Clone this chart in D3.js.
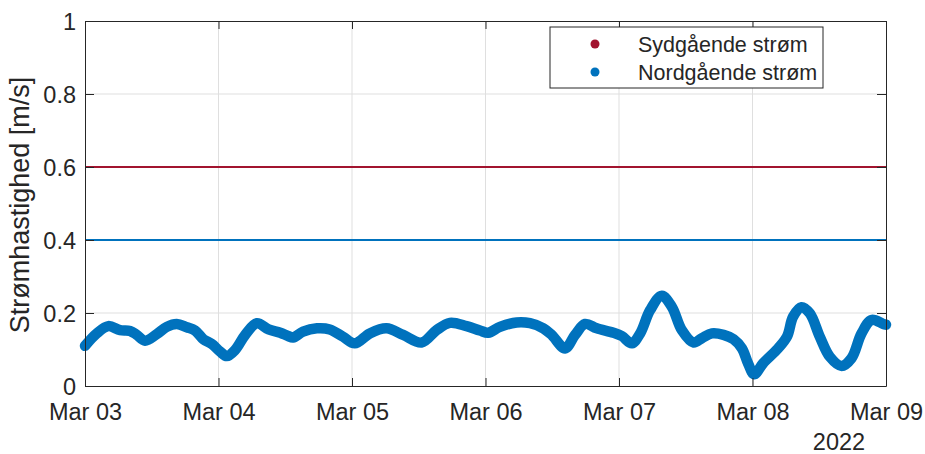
<!DOCTYPE html>
<html>
<head>
<meta charset="utf-8">
<script src="https://cdn.jsdelivr.net/npm/d3@7"></script>
<style>
  body { margin: 0; background: #fff; }
  text { font-family: "Liberation Sans", Arial, sans-serif; fill: #262626; }
</style>
</head>
<body>
<div id="my_dataviz"></div>
<script>
// data: hours after Mar 03 2022 00:00, speed in m/s
var hours = [0, 2.1, 4.2, 6.3, 8.1, 9.3, 10.8, 12.9, 14.7, 16.5, 18.3, 19.8, 21.3, 22.8,
  24.3, 25.5, 27.0, 28.8, 30.9, 33.0, 35.1, 36.5, 37.4, 39.2, 41.7, 44.0, 46.4, 48.5,
  51.2, 54.2, 57.2, 60.5, 63.2, 65.6, 68.6, 71.0, 72.5, 74.6, 77.6, 80.0, 82.4, 83.9,
  86.3, 88.1, 89.9, 92.0, 95.0, 96.5, 98.3, 99.8, 101.6, 103.7, 105.5, 107.3, 109.4,
  110.9, 112.7, 114.8, 116.6, 118.1, 119.2, 120.3, 121.9, 124.6, 126.2, 127.3, 128.8,
  130.3, 132.1, 133.9, 136.0, 137.8, 139.6, 141.4, 143.5, 144];
var speed = [0.110, 0.144, 0.164, 0.153, 0.151, 0.140, 0.124, 0.142, 0.162, 0.170, 0.161,
  0.152, 0.128, 0.115, 0.094, 0.082, 0.099, 0.140, 0.172, 0.155, 0.146, 0.137, 0.133,
  0.149, 0.158, 0.155, 0.135, 0.117, 0.144, 0.158, 0.140, 0.119, 0.153, 0.173, 0.164,
  0.152, 0.146, 0.162, 0.174, 0.172, 0.158, 0.140, 0.103, 0.140, 0.170, 0.158, 0.146,
  0.137, 0.117, 0.144, 0.208, 0.247, 0.217, 0.153, 0.119, 0.131, 0.144, 0.140, 0.128,
  0.103, 0.062, 0.032, 0.062, 0.103, 0.135, 0.190, 0.216, 0.199, 0.135, 0.080, 0.055,
  0.076, 0.144, 0.181, 0.170, 0.168];
var seriesNames = ["Sydgående strøm", "Nordgående strøm"];
var limits = [0.6, 0.4];
var yTicks = [0, 0.2, 0.4, 0.6, 0.8, 1];

var start = new Date(Date.UTC(2022, 2, 3));
var end = new Date(Date.UTC(2022, 2, 9));

var margin = {top: 21, right: 39, bottom: 68, left: 85},
    width = 925 - margin.left - margin.right,
    height = 454 - margin.top - margin.bottom;

var colors = ["#A2142F", "#0072BD"];

var svg = d3.select("#my_dataviz")
  .append("svg")
    .attr("width", 925)
    .attr("height", 454)
  .append("g")
    .attr("transform", "translate(" + margin.left + "," + margin.top + ")");

var x = d3.scaleUtc().domain([start, end]).range([0, width]);
var y = d3.scaleLinear().domain([0, 1]).range([height, 0]);
var days = x.ticks(d3.utcDay.every(1));

// grid
svg.append("g").selectAll("line")
  .data(days.slice(1, -1))
  .enter().append("line")
    .attr("x1", function(d) { return x(d); })
    .attr("x2", function(d) { return x(d); })
    .attr("y1", 0).attr("y2", height)
    .attr("stroke", "#dfdfdf");
svg.append("g").selectAll("line")
  .data(yTicks.slice(1, -1))
  .enter().append("line")
    .attr("y1", function(d) { return y(d); })
    .attr("y2", function(d) { return y(d); })
    .attr("x1", 0).attr("x2", width)
    .attr("stroke", "#dfdfdf");

// limit lines
svg.append("g").selectAll("line")
  .data(limits)
  .enter().append("line")
    .attr("x1", x(start)).attr("x2", x(end))
    .attr("y1", function(d) { return y(d); })
    .attr("y2", function(d) { return y(d); })
    .attr("stroke", function(d, i) { return colors[i]; })
    .attr("stroke-width", 2);

// measured speed
var pts = hours.map(function(h, i) {
  return {t: new Date(start.getTime() + h * 3600e3), v: speed[i]};
});
svg.append("path")
  .datum(pts)
  .attr("fill", "none")
  .attr("stroke", colors[1])
  .attr("stroke-width", 10.5)
  .attr("stroke-linecap", "round")
  .attr("stroke-linejoin", "round")
  .attr("d", d3.line()
    .curve(d3.curveCatmullRom)
    .x(function(d) { return x(d.t); })
    .y(function(d) { return y(d.v); }));

// axes (box with inward ticks)
var fmt = d3.utcFormat("%b %d");
var axBottom = svg.append("g")
  .attr("transform", "translate(0," + height + ")")
  .call(d3.axisBottom(x).tickValues(days).tickFormat(fmt).tickSizeInner(-8).tickSizeOuter(0).tickPadding(17));
var axLeft = svg.append("g")
  .call(d3.axisLeft(y).tickValues(yTicks).tickFormat(d3.format("")).tickSizeInner(-9).tickSizeOuter(0).tickPadding(9));
var axTop = svg.append("g")
  .call(d3.axisTop(x).tickValues(days).tickFormat("").tickSizeInner(-8).tickSizeOuter(0));
var axRight = svg.append("g")
  .attr("transform", "translate(" + width + ",0)")
  .call(d3.axisRight(y).tickValues(yTicks).tickFormat("").tickSizeInner(-9).tickSizeOuter(0));
[axBottom, axLeft, axTop, axRight].forEach(function(a) {
  a.selectAll("path, line").attr("stroke", "#262626");
  a.selectAll("text").style("font-size", "23.5px").attr("fill", "#262626")
    .style("font-family", "'Liberation Sans', Arial, sans-serif");
});
axLeft.selectAll("text").attr("dy", "0.36em");

svg.append("text")
  .attr("x", width - 47)
  .attr("y", height + 64)
  .style("text-anchor", "middle")
  .style("font-size", "23.5px")
  .text("2022");

svg.append("text")
  .attr("transform", "rotate(-90)")
  .attr("x", -205 + margin.top)
  .attr("y", 29 - margin.left)
  .style("text-anchor", "middle")
  .style("font-size", "27px")
  .text("Strømhastighed [m/s]");

// legend
var legend = svg.append("g").attr("transform", "translate(" + (550 - margin.left) + "," + (27 - margin.top) + ")");
legend.append("rect")
  .attr("width", 273).attr("height", 61)
  .attr("fill", "#fff").attr("stroke", "#262626");
var item = legend.selectAll("g.item")
  .data(seriesNames)
  .enter().append("g")
    .attr("class", "item")
    .attr("transform", function(d, i) { return "translate(0," + (17 + i * 28) + ")"; });
item.append("circle")
  .attr("cx", 45).attr("r", 4.5)
  .attr("fill", function(d, i) { return colors[i]; });
item.append("text")
  .attr("x", 88).attr("dy", "0.36em")
  .style("font-size", "21.5px")
  .text(function(d) { return d; });
</script>
</body>
</html>
